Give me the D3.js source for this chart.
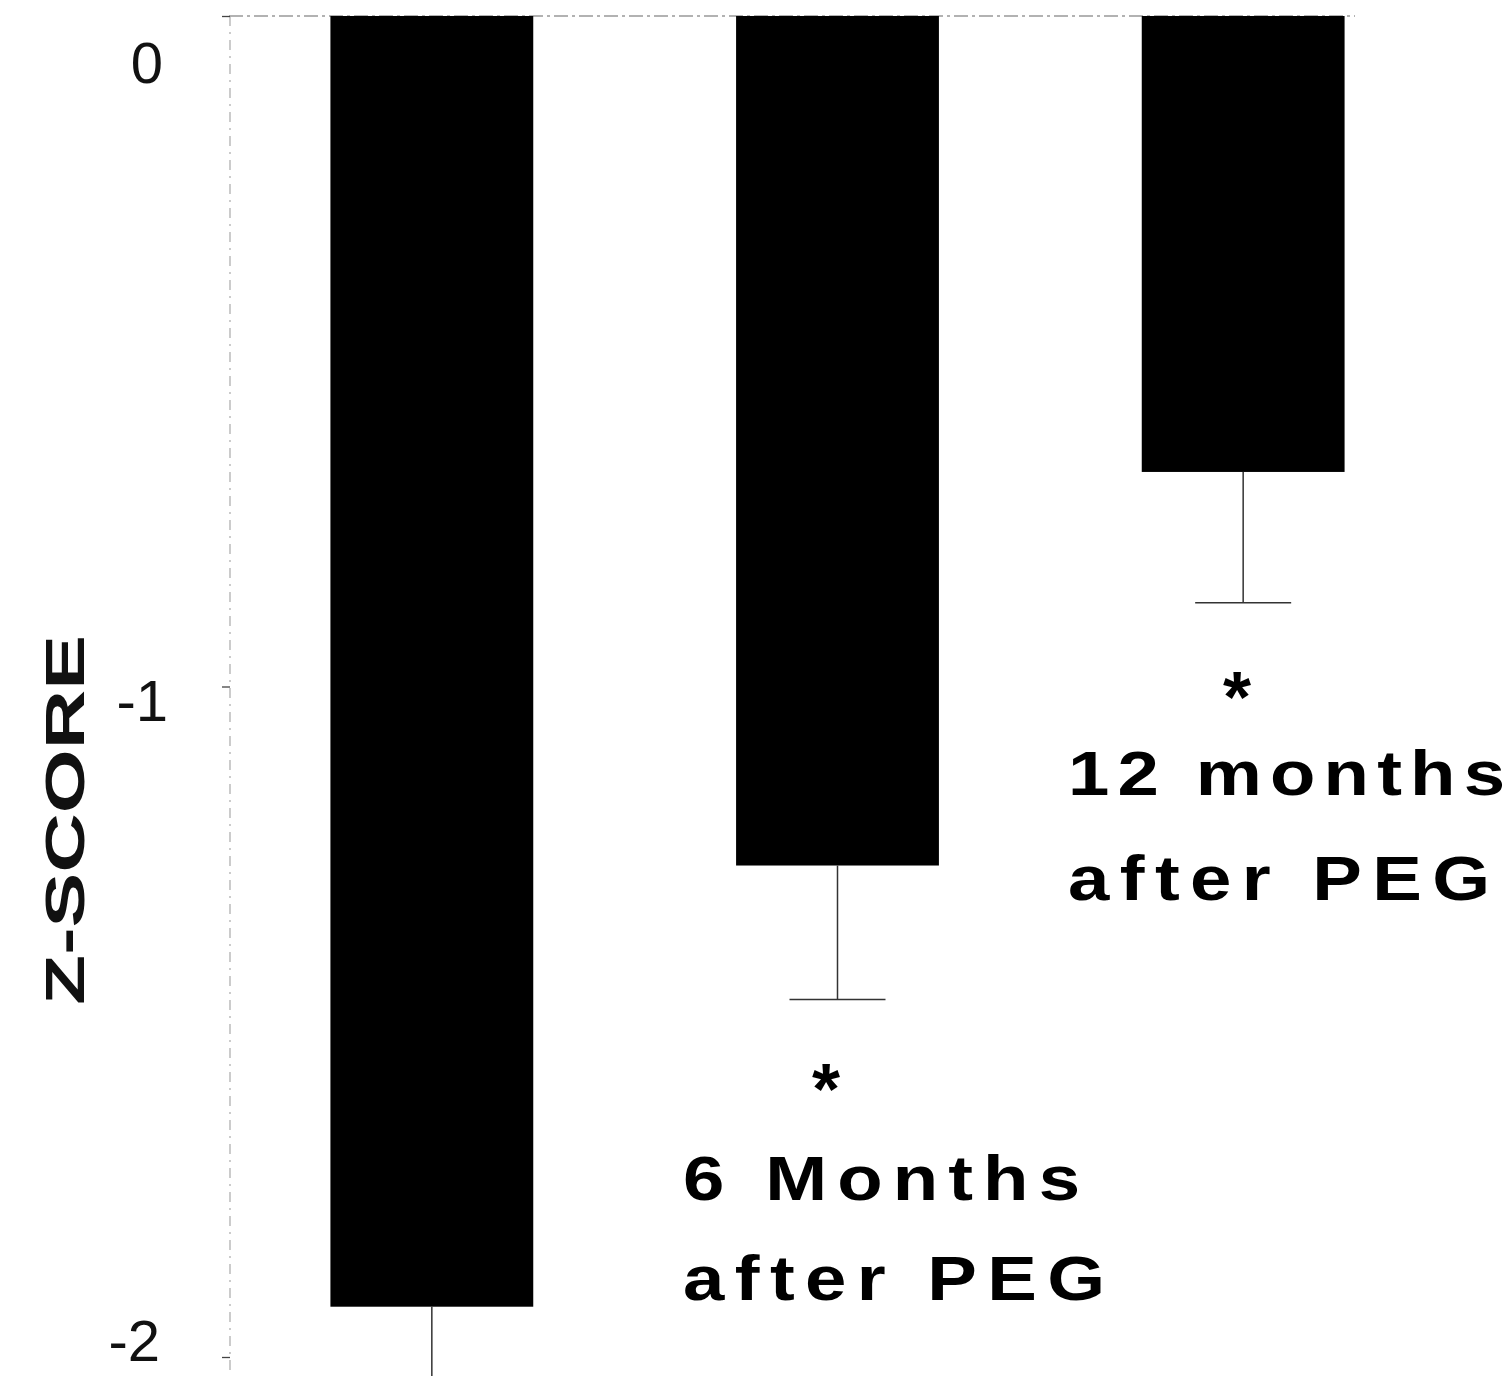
<!DOCTYPE html>
<html><head><meta charset="utf-8">
<script src="https://cdn.jsdelivr.net/npm/d3@7"></script>
<style>body{margin:0;background:#fff}svg{display:block}</style>
</head><body>
<script>
const categories = ["Before PEG", "6 Months after PEG", "12 months after PEG"];
const zScores = [-1.925, -1.267, -0.68];
const sdValues = [0.2, 0.2, 0.195];
const labelLines = [[], ["6 Months", "after PEG"], ["12 months", "after PEG"]];
const significant = [false, true, true];
const yTicks = [0, -1, -2];

const W = 1511, H = 1376;
const svg = d3.select("body").append("svg").attr("width", W).attr("height", H);

const x = d3.scaleBand().domain(categories).range([229, 1446]).paddingInner(0.5).paddingOuter(0.25);
const y = d3.scaleLinear().domain([-2, 0]).range([1357, 16]);

// zero line (top)
svg.append("line").attr("x1", 229).attr("x2", 1355).attr("y1", y(0)).attr("y2", y(0))
  .attr("stroke", "#999").attr("stroke-width", 1.5).attr("stroke-dasharray", "14,4,3,4");

// y axis
const yAxis = d3.axisLeft(y).tickValues(yTicks).tickFormat(d => String(d)).tickSize(8).tickPadding(55);
const gy = svg.append("g").attr("transform", "translate(230,0)").call(yAxis);
gy.select(".domain").attr("stroke", "#aaa").attr("stroke-width", 1.2).attr("stroke-dasharray", "10,6,2,6")
  .attr("d", `M0,${y(0)}V${H}`);
gy.selectAll(".tick line").attr("stroke", "#444").attr("stroke-width", 1.3);
const tickDy = [66, 34, 3];
const tickX = [-67, -62, -70];
gy.selectAll(".tick text").attr("font-family", "Liberation Sans, Arial, sans-serif")
  .attr("font-size", 58).attr("fill", "#111").attr("dy", (d, i) => tickDy[i])
  .attr("x", (d, i) => tickX[i]);

// y title
svg.append("text").attr("transform", "translate(84,820) rotate(-90)")
  .attr("text-anchor", "middle").attr("font-family", "Liberation Sans, Arial, sans-serif")
  .attr("font-weight", "bold").attr("font-size", 56).attr("fill", "#111")
  .attr("textLength", 370).attr("lengthAdjust", "spacingAndGlyphs").text("Z-SCORE");

// bars
svg.selectAll("rect.bar").data(categories).join("rect").attr("class", "bar")
  .attr("x", d => x(d)).attr("width", x.bandwidth())
  .attr("y", y(0)).attr("height", (d, i) => y(zScores[i]) - y(0)).attr("fill", "#000");

// error bars
const cx = (d) => x(d) + x.bandwidth() / 2;
categories.forEach((c, i) => {
  const g = svg.append("g");
  g.append("line").attr("x1", cx(c)).attr("x2", cx(c))
    .attr("y1", y(zScores[i])).attr("y2", y(zScores[i] - sdValues[i]))
    .attr("stroke", "#333").attr("stroke-width", 1.5);
  g.append("line").attr("x1", cx(c) - 48).attr("x2", cx(c) + 48)
    .attr("y1", y(zScores[i] - sdValues[i])).attr("y2", y(zScores[i] - sdValues[i]))
    .attr("stroke", "#333").attr("stroke-width", 1.5);
});

// annotations
const font = "Liberation Sans, Arial, sans-serif";
const sx = 1.18;
const annot = [null,
  {ax: 826, ay: 1114, lx: 683, ly: [1200, 1300], lw: [397, 422]},
  {ax: 1237, ay: 722, lx: 1068, ly: [795, 900], lw: [437, 422]}];
categories.forEach((c, i) => {
  const a = annot[i];
  if (!a) return;
  if (significant[i]) {
    svg.append("text").attr("x", a.ax).attr("y", a.ay).attr("text-anchor", "middle")
      .attr("font-family", font).attr("font-weight", "bold").attr("font-size", 72)
      .attr("fill", "#000").text("*");
  }
  labelLines[i].forEach((t, j) => {
    svg.append("text").attr("transform", `translate(${a.lx},${a.ly[j]}) scale(${sx},1)`)
      .attr("font-family", font).attr("font-weight", "bold").attr("font-size", 63)
      .attr("fill", "#000").attr("textLength", a.lw[j] / sx).attr("lengthAdjust", "spacing").text(t);
  });
});
</script>
</body></html>
